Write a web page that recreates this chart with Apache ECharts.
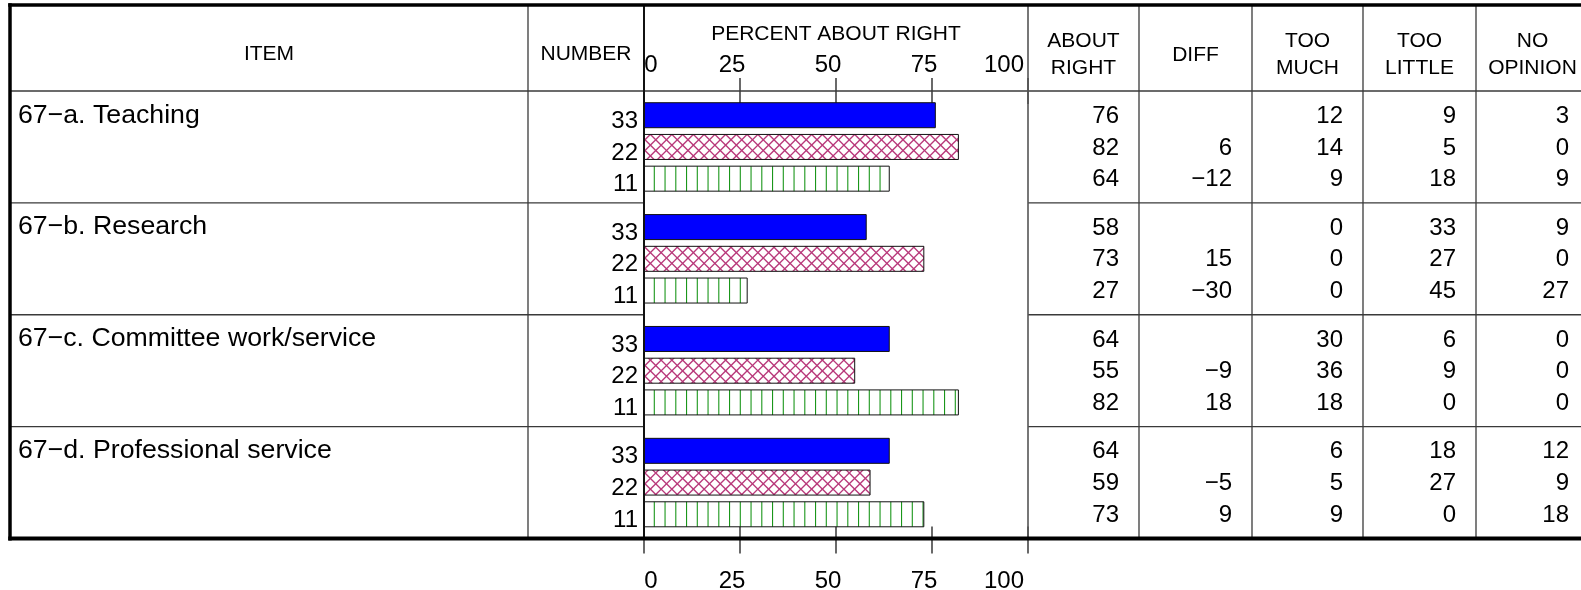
<!DOCTYPE html>
<html><head><meta charset="utf-8">
<script src="https://cdn.jsdelivr.net/npm/echarts@6/dist/echarts.min.js"></script>
<style>html,body{margin:0;padding:0;background:#fff}#c{width:1581px;height:590px}</style>
</head><body><div id="c"></div>
<script>
// ---------------- data ----------------
const items = ['67\u2212a. Teaching', '67\u2212b. Research', '67\u2212c. Committee work/service', '67\u2212d. Professional service'];
const groupNumbers = [33, 22, 11];
const tickValues = [0, 25, 50, 75, 100];
// each inner array: [group 33, group 22, group 11]
const aboutRight = [[76, 82, 64], [58, 73, 27], [64, 55, 82], [64, 59, 73]];
const diff       = [[null, 6, -12], [null, 15, -30], [null, -9, 18], [null, -5, 9]];
const tooMuch    = [[12, 14, 9], [0, 0, 0], [30, 36, 18], [6, 5, 9]];
const tooLittle  = [[9, 5, 18], [33, 27, 45], [6, 9, 0], [18, 27, 0]];
const noOpinion  = [[3, 0, 9], [9, 0, 27], [0, 0, 0], [12, 9, 18]];
const headerItem = 'ITEM', headerNumber = 'NUMBER', chartTitle = 'PERCENT ABOUT RIGHT';
const tableHeaders = ['ABOUT\nRIGHT', 'DIFF', 'TOO\nMUCH', 'TOO\nLITTLE', 'NO\nOPINION'];

// ---------------- layout ----------------
const FONT = '"Liberation Sans", Arial, Helvetica, sans-serif';
const TOP = 91, BOT = 538.5, FRAME_TOP = 5, FRAME_LEFT = 10;
const CH_L = 644, CH_R = 1028;
const itemCol = [FRAME_LEFT, 528], numCol = [528, CH_L];
const tableCols = [[CH_R, 1139], [1139, 1252], [1252, 1363], [1363, 1476], [1476, 1589]];
const tableData = [aboutRight, diff, tooMuch, tooLittle, noOpinion];
const BAR_W = 26, BAR_GAP = '22%';

function fmt(v) { if (v === null || v === undefined) return ''; return v < 0 ? '\u2212' + Math.abs(v) : String(v); }

// patterns
function makeCross() {
  const s = 43, c = document.createElement('canvas'); c.width = s; c.height = s;
  const g = c.getContext('2d'); g.fillStyle = '#fff'; g.fillRect(0, 0, s, s);
  g.strokeStyle = '#b8387a'; g.lineWidth = 1.3; const step = s / 4;
  for (let k = -4; k <= 8; k++) {
    const c0 = k * step;
    g.beginPath(); g.moveTo(c0, 0); g.lineTo(c0 + s, s); g.stroke();
    g.beginPath(); g.moveTo(c0, 0); g.lineTo(c0 - s, s); g.stroke();
  }
  return c;
}
function makeVert() {
  const s = 43, c = document.createElement('canvas'); c.width = s; c.height = s;
  const g = c.getContext('2d'); g.fillStyle = '#fff'; g.fillRect(0, 0, s, s);
  g.strokeStyle = '#1a961a'; g.lineWidth = 1.1;
  for (let k = 0; k < 4; k++) { const x = (9.3 + k * 10.75) % s; g.beginPath(); g.moveTo(x, 0); g.lineTo(x, s); g.stroke(); }
  return c;
}
const fills = ['#0000ff', { image: makeCross(), repeat: 'repeat' }, { image: makeVert(), repeat: 'repeat' }];

const grids = [], xAxes = [], yAxes = [], series = [];
// main chart grid
grids.push({ left: CH_L, top: TOP, width: CH_R - CH_L, height: BOT - TOP, outerBoundsMode: 'none', containLabel: false });
const tickStyle = { color: '#444', width: 1.6 };
const labelRich = {
  a: { fontSize: 24, fontFamily: FONT, color: '#000', padding: [0, 0, 0, 14] },
  b: { fontSize: 24, fontFamily: FONT, color: '#000', padding: [0, 16, 0, 0] },
  c: { fontSize: 24, fontFamily: FONT, color: '#000', padding: [0, 48, 0, 0] }
};
function labFmt(v) { return v === tickValues[0] ? '{a|' + v + '}' : (v === tickValues[tickValues.length - 1] ? '{c|' + v + '}' : '{b|' + v + '}'); }
const baseX = { type: 'value', gridIndex: 0, min: tickValues[0], max: tickValues[tickValues.length - 1], interval: tickValues[1] - tickValues[0], splitLine: { show: false }, axisLine: { show: false } };
xAxes.push(Object.assign({}, baseX, { position: 'bottom', axisTick: { show: true, length: 15, lineStyle: tickStyle }, axisLabel: { show: true, margin: 31, formatter: labFmt, rich: labelRich, fontSize: 24, fontFamily: FONT, color: '#000' } }));
xAxes.push(Object.assign({}, baseX, { position: 'bottom', axisTick: { show: true, inside: true, length: 12, lineStyle: tickStyle }, axisLabel: { show: false } }));
xAxes.push(Object.assign({}, baseX, { position: 'top', axisTick: { show: true, length: 13, lineStyle: tickStyle }, axisLabel: { show: true, margin: 14, formatter: labFmt, rich: labelRich, fontSize: 24, fontFamily: FONT, color: '#000' } }));
xAxes.push(Object.assign({}, baseX, { position: 'top', axisTick: { show: true, inside: true, length: 13, lineStyle: tickStyle }, axisLabel: { show: false } }));
yAxes.push({ type: 'category', gridIndex: 0, data: items, inverse: true, axisLine: { show: false }, axisTick: { show: false }, axisLabel: { show: false }, splitLine: { show: false } });
groupNumbers.forEach((n, si) => {
  series.push({ type: 'bar', name: String(n), xAxisIndex: 0, yAxisIndex: 0, data: aboutRight.map(r => r[si]), barWidth: BAR_W, barGap: BAR_GAP, silent: true,
    itemStyle: { color: fills[si], borderColor: '#111', borderWidth: 1 } });
});

// helper grids for table text columns
function addTextColumn(x0, x1, getText, labelOpt) {
  const gi = grids.length;
  grids.push({ left: x0, top: TOP, width: x1 - x0, height: BOT - TOP, outerBoundsMode: 'none', containLabel: false });
  const xi = xAxes.length, yi = yAxes.length;
  xAxes.push({ type: 'value', gridIndex: gi, min: 0, max: 1, show: false });
  yAxes.push({ type: 'category', gridIndex: gi, data: items, inverse: true, show: false });
  groupNumbers.forEach((n, si) => {
    series.push({ type: 'bar', xAxisIndex: xi, yAxisIndex: yi, data: items.map(() => 1), barWidth: BAR_W, barGap: BAR_GAP, silent: true,
      itemStyle: { color: 'rgba(0,0,0,0)' },
      label: Object.assign({ show: true, color: '#000', fontFamily: FONT, fontSize: 24, formatter: p => getText(p.dataIndex, si) }, labelOpt) });
  });
}
addTextColumn(itemCol[0], itemCol[1], (gi, si) => si === 0 ? items[gi] : '', { position: 'insideLeft', distance: 8, fontSize: 26.7, offset: [0, 0] });
addTextColumn(numCol[0], numCol[1], (gi, si) => String(groupNumbers[si]), { position: 'insideRight', distance: 6, offset: [0, 6] });
tableCols.forEach((c, k) => addTextColumn(c[0], c[1], (gi, si) => fmt(tableData[k][gi][si]), { position: 'insideRight', distance: 20, offset: [0, 1] }));

// ---------------- table graphics ----------------
const W = 1581;
const thin = { stroke: '#3a3a3a', lineWidth: 1.3 };
const g = [];
function line(x1, y1, x2, y2, style) { g.push({ type: 'line', z: 50, silent: true, shape: { x1, y1, x2, y2 }, style }); }
function text(x, y, t, size) { g.push({ type: 'text', z: 50, silent: true, x, y, style: { text: t, fontSize: size, fontFamily: FONT, fill: '#000', align: 'center', verticalAlign: 'middle', lineHeight: 27 } }); }
line(FRAME_LEFT, TOP, W, TOP, thin);
const band = (BOT - TOP) / items.length;
for (let k = 1; k < items.length; k++) {
  const y = TOP + band * k;
  line(FRAME_LEFT, y, CH_L, y, thin);
  line(CH_R, y, W, y, thin);
}
[itemCol[1]].concat(tableCols.slice(1).map(c => c[0])).forEach(x => line(x, FRAME_TOP, x, BOT, thin));
line(CH_R, FRAME_TOP, CH_R, BOT, { stroke: '#555', lineWidth: 1.6 });
line(CH_L, FRAME_TOP, CH_L, BOT, { stroke: '#111', lineWidth: 2 });
// thick frame
line(FRAME_LEFT - 1.75, FRAME_TOP, W, FRAME_TOP, { stroke: '#000', lineWidth: 3.5 });
line(FRAME_LEFT, FRAME_TOP - 1.75, FRAME_LEFT, BOT + 2, { stroke: '#000', lineWidth: 3.5 });
line(FRAME_LEFT - 1.75, BOT, W, BOT, { stroke: '#000', lineWidth: 4 });
// headers
text((itemCol[0] + itemCol[1]) / 2, 54, headerItem, 21);
text((numCol[0] + numCol[1]) / 2, 54, headerNumber, 21);
text((CH_L + CH_R) / 2, 34.5, chartTitle, 21);
tableCols.forEach((c, k) => text((c[0] + c[1]) / 2, 55, tableHeaders[k], 21));

const chart = echarts.init(document.getElementById('c'), null, { renderer: 'canvas' });
chart.setOption({
  animation: false,
  backgroundColor: '#fff',
  grid: grids, xAxis: xAxes, yAxis: yAxes, series: series,
  graphic: { elements: g }
});
</script></body></html>
